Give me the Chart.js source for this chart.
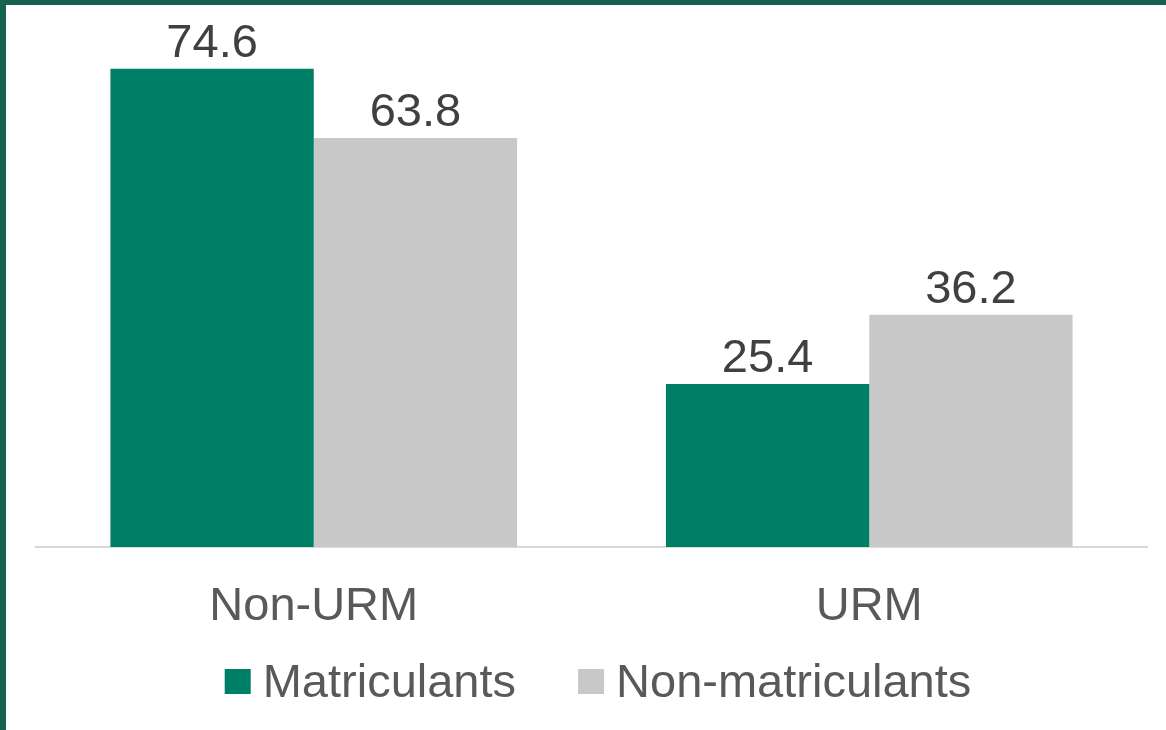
<!DOCTYPE html>
<html>
<head>
<meta charset="utf-8">
<script src="https://cdn.jsdelivr.net/npm/chart.js@4"></script>
<style>
  html, body { margin: 0; padding: 0; }
  body {
    width: 1166px; height: 730px; overflow: hidden;
    background: #17624f;
  }
  #wrap {
    position: absolute; left: 6px; top: 5px;
    width: 1160px; height: 725px; background: #ffffff;
  }
</style>
</head>
<body>
<div id="wrap"><canvas id="chart" width="1160" height="725"></canvas></div>
<script>
// Dados
const categorias = ['Non-URM', 'URM']
const matriculants = [74.6, 25.4]
const nonMatriculants = [63.8, 36.2]
const nomesSeries = ['Matriculants', 'Non-matriculants']
const coresSeries = ['#007f67', '#c8c8c8']

const fonte = 'Arial, "Liberation Sans", sans-serif'

// Rótulos de valor acima das barras
const rotulosPlugin = {
  id: 'rotulos',
  afterDatasetsDraw(chart) {
    const ctx = chart.ctx
    ctx.save()
    ctx.font = '47px ' + fonte
    ctx.fillStyle = '#404040'
    ctx.textAlign = 'center'
    ctx.textBaseline = 'alphabetic'
    chart.data.datasets.forEach((ds, i) => {
      chart.getDatasetMeta(i).data.forEach((bar, j) => {
        ctx.fillText(ds.data[j].toFixed(1), bar.x, bar.y - 12)
      })
    })
    ctx.restore()
  }
}

// Legenda desenhada à mão (espaçamentos iguais ao original)
const legendaPlugin = {
  id: 'legenda',
  afterDraw(chart) {
    const ctx = chart.ctx
    const box = 26, gapTexto = 12, gapItem = 62
    ctx.save()
    ctx.font = '47px ' + fonte
    ctx.textBaseline = 'middle'
    ctx.textAlign = 'left'
    const itens = chart.data.datasets.map(ds => ({
      texto: ds.label, cor: ds.backgroundColor, w: ctx.measureText(ds.label).width
    }))
    let total = 0
    itens.forEach((it, i) => { total += box + gapTexto + it.w + (i ? gapItem : 0) })
    let x = (chart.width - total) / 2 + 12
    const y = 677
    itens.forEach(it => {
      ctx.fillStyle = it.cor
      ctx.fillRect(x, y - box / 2, box, box - 1)
      ctx.fillStyle = '#595959'
      ctx.fillText(it.texto, x + box + gapTexto, y + 2)
      x += box + gapTexto + it.w + gapItem
    })
    ctx.restore()
  }
}

new Chart(document.getElementById('chart'), {
  type: 'bar',
  data: {
    labels: categorias,
    datasets: [{
      label: nomesSeries[0],
      data: matriculants,
      backgroundColor: coresSeries[0],
      categoryPercentage: 0.732,
      barPercentage: 1
    }, {
      label: nomesSeries[1],
      data: nonMatriculants,
      backgroundColor: coresSeries[1],
      categoryPercentage: 0.732,
      barPercentage: 1
    }]
  },
  options: {
    responsive: false,
    animation: false,
    layout: { padding: { top: 29, left: 30, right: 19, bottom: 103 } },
    scales: {
      y: { display: false, min: 0, max: 80 },
      x: {
        grid: { display: false },
        border: { display: true, color: '#d9d9d9', width: 2 },
        ticks: { color: '#595959', font: { size: 47, family: fonte }, padding: 24 },
        afterFit(scale) { scale.height = 80 }
      }
    },
    plugins: {
      tooltip: { enabled: false },
      legend: { display: false }
    }
  },
  plugins: [rotulosPlugin, legendaPlugin]
})
</script>
</body>
</html>
